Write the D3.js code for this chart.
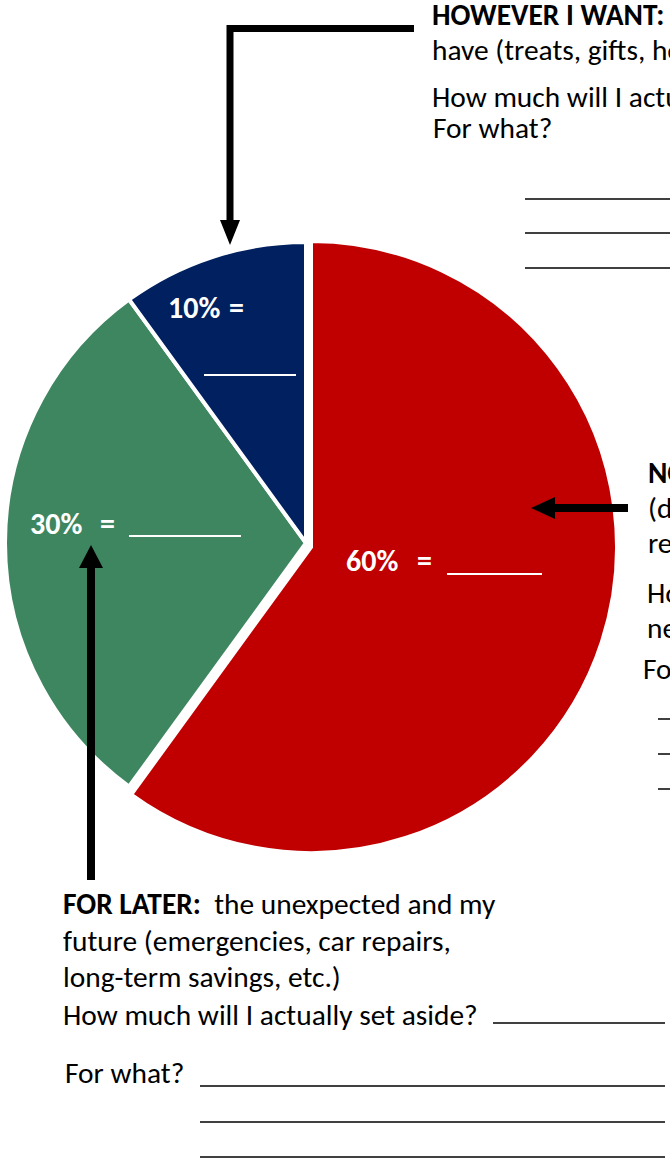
<!DOCTYPE html>
<html>
<head>
<meta charset="utf-8">
<script src="https://cdn.jsdelivr.net/npm/d3@7"></script>
<style>
  body { margin: 0; background: #fff; }
  svg { display: block; }
</style>
</head>
<body>
<svg id="chart" width="670" height="1166"></svg>
<script>
// Budget split pie (worksheet style)
const categories = ['Now', 'For later', 'However I want'];
const shares = [60, 30, 10];
const shareLabels = ['60%', '30%', '10%'];
const sliceColors = ['#C00000', '#3D8660', '#002060'];

// worksheet text blocks, [text, bold] parts per line
const wantLines = [
    [['HOWEVER I WANT:', true], [' things I would like to', false]],
    [['have (treats, gifts, hobbies, fun, etc.)', false]],
    [['How much will I actually spend?', false]],
    [['For what?', false]]
];
const nowLines = [
    [['NOW:', true], [' my needs', false]],
    [['(day-to-day living costs:', false]],
    [['rent, food, bills, etc.)', false]],
    [['How much will I actually', false]],
    [['need?', false]],
    [['For what?', false]]
];
const laterLines = [
    [['FOR LATER:', true], ['  the unexpected and my', false]],
    [['future (emergencies, car repairs,', false]],
    [['long-term savings, etc.)', false]],
    [['How much will I actually set aside?', false]],
    [['For what?', false]]
];

const svg = d3.select('#chart');
const font = 'Carlito, "Open Sans", Lato, sans-serif';

// fit body font so the longest full line matches the worksheet width
const probe = svg.append('text')
    .attr('font-family', font).attr('font-size', 24)
    .text('How much will I actually set aside?');
const bodySize = 24 * 415 / probe.node().getComputedTextLength();
probe.remove();

// pie geometry
const cx = 306, cy = 543, radius = 301;
const bigSlice = { dx: 5, dy: 4, r: 306 };

const pie = d3.pie().sort(null).value(d => d);
const arcs = pie(shares);

const pieG = svg.append('g').attr('transform', `translate(${cx},${cy})`);
pieG.selectAll('path')
    .data(arcs)
    .enter()
    .append('path')
    .attr('transform', (d, i) => i === 0 ? `translate(${bigSlice.dx},${bigSlice.dy})` : null)
    .attr('d', (d, i) => d3.arc().innerRadius(0).outerRadius(i === 0 ? bigSlice.r : radius)(d))
    .attr('fill', (d, i) => sliceColors[i])
    .attr('stroke', '#fff')
    .attr('stroke-width', 4)
    .attr('stroke-linejoin', 'miter');

// slice labels: "NN%  =  ____"
const labelLayout = [
    { x: 346, y: 571, eqX: 417, b1: 447, b2: 542, by: 574 },
    { x: 30, y: 534, eqX: 100, b1: 129, b2: 241, by: 536 },
    { x: 168, y: 318, eqX: 229, b1: 204, b2: 296, by: 375 }
];
arcs.forEach((a, i) => {
    const L = labelLayout[i];
    svg.append('text')
        .attr('x', L.x).attr('y', L.y)
        .attr('font-family', font).attr('font-weight', 'bold')
        .attr('font-size', 30).attr('fill', '#fff')
        .text(shareLabels[i]);
    svg.append('text')
        .attr('x', L.eqX).attr('y', L.y)
        .attr('font-family', font).attr('font-weight', 'bold')
        .attr('font-size', 30).attr('fill', '#fff')
        .text('=');
    svg.append('line')
        .attr('x1', L.b1).attr('x2', L.b2)
        .attr('y1', L.by).attr('y2', L.by)
        .attr('stroke', '#fff').attr('stroke-width', 2);
});

// arrows
function arrow(points, headLen, headHalf, width) {
    const n = points.length;
    const [tx, ty] = points[n - 1];
    const [px, py] = points[n - 2];
    const len = Math.hypot(tx - px, ty - py);
    const ux = (tx - px) / len, uy = (ty - py) / len;
    const bx = tx - ux * headLen, by = ty - uy * headLen;
    const shaft = points.slice(0, n - 1).concat([[bx, by]]);
    svg.append('path')
        .attr('d', d3.line()(shaft))
        .attr('fill', 'none')
        .attr('stroke', '#000')
        .attr('stroke-width', width)
        .attr('stroke-linejoin', 'miter');
    svg.append('path')
        .attr('d', d3.line()([
            [tx, ty],
            [bx - uy * headHalf, by + ux * headHalf],
            [bx + uy * headHalf, by - ux * headHalf]
        ]) + 'Z')
        .attr('fill', '#000');
}
arrow([[414, 28.5], [230, 28.5], [230, 245]], 25, 10, 7);
arrow([[628, 508], [531, 508]], 24, 11, 8);
arrow([[91, 880], [91, 545]], 23, 12, 8);

// text blocks
function block(lines, pos) {
    lines.forEach((parts, i) => {
        const t = svg.append('text')
            .attr('x', pos[i][0]).attr('y', pos[i][1])
            .attr('font-family', font)
            .attr('font-size', bodySize)
            .attr('fill', '#000')
            .style('white-space', 'pre');
        parts.forEach(([s, b]) => {
            t.append('tspan').attr('font-weight', b ? 'bold' : 'normal').text(s);
        });
    });
}
block(wantLines, [[432, 25], [432, 60], [432, 107], [433, 138]]);
block(nowLines, [[648, 483], [648, 518], [648, 553], [647, 603], [647, 638], [643, 679]]);
block(laterLines, [[63, 914], [63, 951], [63, 987], [63, 1025], [65, 1083]]);

// write-in blanks
function blank(x1, x2, y) {
    svg.append('line')
        .attr('x1', x1).attr('x2', x2)
        .attr('y1', y).attr('y2', y)
        .attr('stroke', '#000').attr('stroke-width', 1.5);
}
[199, 233, 268].forEach(y => blank(525, 672, y));
[719, 754, 789].forEach(y => blank(658, 672, y));
blank(493, 665, 1023);
[1086, 1122, 1157].forEach(y => blank(200, 665, y));
</script>
</body>
</html>
